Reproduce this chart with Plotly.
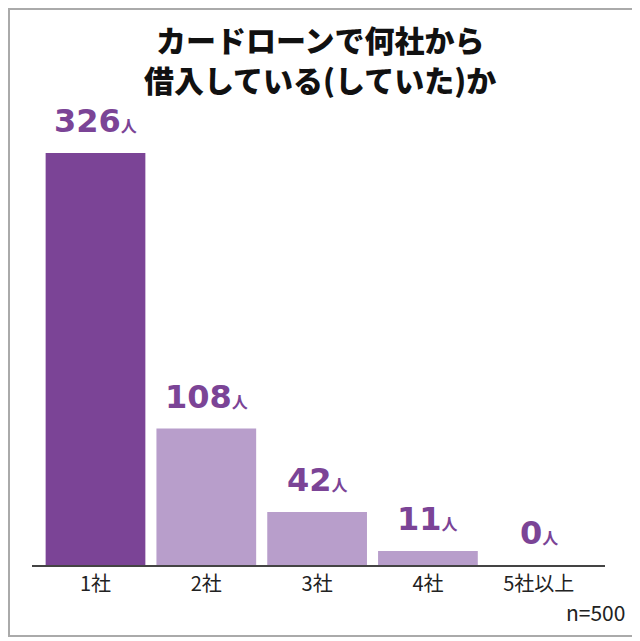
import plotly.graph_objects as go

# data
categories = ["1社", "2社", "3社", "4社", "5社以上"]
counts = [326, 108, 42, 11, 0]
unit = "人"
title_lines = ["カードローンで何社から", "借入している(していた)か"]
sample_note = "n=500"

dark = "#7B4496"
light = "#B89ECB"
bar_colors = [dark] + [light] * (len(categories) - 1)

jp_font = "Noto Sans CJK JP"
num_font = "DejaVu Sans"

# page puts the plot 8px in from the corner, so size it to fit the window
W, H = 632, 633
L, R, T, B = 24, 35, 92, 76
pw, ph = W - L - R, H - T - B


def px(x):
    return (x - L) / pw


def py(y):
    return (H - B - y) / ph


fig = go.Figure()
fig.add_trace(
    go.Bar(
        x=categories,
        y=counts,
        width=0.9,
        marker=dict(color=bar_colors, line=dict(width=0)),
        hoverinfo="skip",
    )
)

# value labels above the bars
for cat, val in zip(categories, counts):
    fig.add_annotation(
        x=cat,
        y=val,
        xref="x",
        yref="y",
        yanchor="bottom",
        yshift=11,
        showarrow=False,
        text=(
            f"<b>{val}</b><span style='font-size:16px; font-family:{jp_font}'>"
            f"<b>{unit}</b></span>"
        ),
        font=dict(family=num_font, size=32, color=dark),
    )

# two title lines, one annotation each
for i, line in enumerate(title_lines):
    fig.add_annotation(
        x=px(312),
        y=py(31 + 40 * i),
        xref="paper",
        yref="paper",
        xanchor="center",
        yanchor="middle",
        showarrow=False,
        borderpad=0,
        text=line,
        font=dict(family=jp_font, size=30, color="#111111", weight=900),
    )

fig.add_annotation(
    x=px(619),
    y=py(604),
    xref="paper",
    yref="paper",
    xanchor="right",
    yanchor="middle",
    showarrow=False,
    text=sample_note,
    font=dict(family=jp_font, size=21, color="#222222"),
)

# outer frame
fig.add_shape(
    type="rect",
    xref="paper",
    yref="paper",
    x0=px(1),
    x1=px(627),
    y0=py(628),
    y1=py(1),
    line=dict(color="#AAAAAA", width=2),
    fillcolor="rgba(0,0,0,0)",
    layer="below",
)

fig.update_layout(
    width=W,
    height=H,
    margin=dict(l=L, r=R, t=T, b=B),
    paper_bgcolor="white",
    plot_bgcolor="white",
    showlegend=False,
    xaxis=dict(
        range=[-0.573, 4.598],
        showline=True,
        linecolor="#444444",
        linewidth=2,
        ticks="",
        tickfont=dict(family=jp_font, size=20, color="#222222"),
        fixedrange=True,
    ),
    yaxis=dict(
        range=[0, 368],
        visible=False,
        showgrid=False,
        zeroline=False,
        fixedrange=True,
    ),
)

fig.write_html("out.html")
